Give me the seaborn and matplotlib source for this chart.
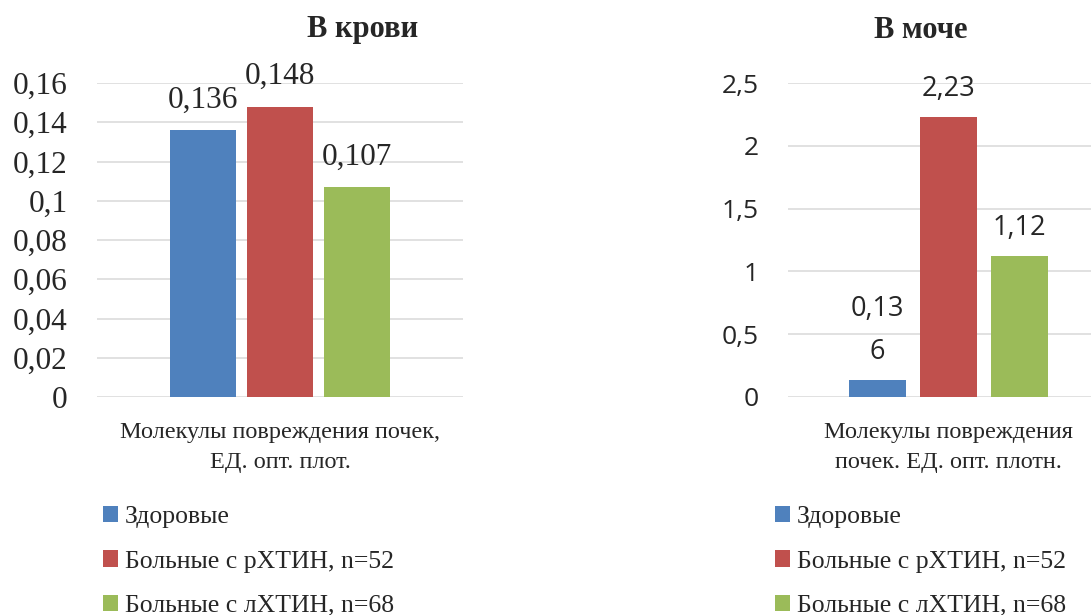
import matplotlib
matplotlib.use("Agg")
import matplotlib.pyplot as plt
from matplotlib.patches import Patch
import seaborn as sns
import pandas as pd

# Data
groups = ["Здоровые", "Больные с рХТИН, n=52", "Больные с лХТИН, n=68"]
colors = ["#4F81BD", "#C0504D", "#9BBB59"]

blood_title = "В крови"
blood_category = "Молекулы повреждения почек,\nЕД. опт. плот."
blood_values = [0.136, 0.148, 0.107]
blood_ticks = [0, 0.02, 0.04, 0.06, 0.08, 0.1, 0.12, 0.14, 0.16]

urine_title = "В моче"
urine_category = "Молекулы повреждения\nпочек. ЕД. опт. плотн."
urine_values = [0.136, 2.23, 1.12]
urine_ticks = [0, 0.5, 1, 1.5, 2, 2.5]

sns.set_style("white")
plt.rcParams["font.family"] = ["Liberation Serif", "DejaVu Serif"]

W, H = 1091, 615
fig = plt.figure(figsize=(W / 100, H / 100), dpi=100)


def fmt(v):
    return f"{v:g}".replace(".", ",")


def panel(rect, category, values, ticks, tick_font, tick_size, label_font,
          label_size, wrap, width, gap, pad):
    ax = fig.add_axes(rect)
    df = pd.DataFrame({"cat": [category] * len(groups), "grp": groups,
                       "val": values})
    sns.barplot(data=df, x="cat", y="val", hue="grp", hue_order=groups,
                palette=colors, width=width, gap=gap, ax=ax, legend=False,
                saturation=1, edgecolor="none")
    ax.set_ylim(ticks[0], ticks[-1])
    ax.set_xlim(-0.5, 0.5)
    ax.set_yticks(ticks)
    ax.set_yticklabels([fmt(t) for t in ticks])
    ax.tick_params(axis="y", length=0, pad=21, labelsize=tick_size,
                   labelfontfamily=tick_font)
    ax.tick_params(axis="x", length=0, pad=18, labelsize=17.5,
                   labelfontfamily="Liberation Serif")
    for lbl in ax.get_xticklabels():
        lbl.set_linespacing(1.55)
    ax.set_xlabel("")
    ax.set_ylabel("")
    ax.yaxis.grid(True, color="#D9D9D9", linewidth=1.1)
    ax.set_axisbelow(True)
    for s in ax.spines.values():
        s.set_visible(False)
    for cont, v in zip(ax.containers, values):
        txt = fmt(v)
        if wrap and len(txt) > wrap:
            txt = txt[:wrap] + "\n" + txt[wrap:]
        ax.bar_label(cont, labels=[txt], padding=pad, fontfamily=label_font,
                     fontsize=label_size, linespacing=1.7)
    return ax


ax1 = panel([97 / W, 1 - 397 / H, 366 / W, 314 / H], blood_category,
            blood_values, blood_ticks, "Liberation Serif", 22.5,
            "Liberation Serif", 22.5, None, 0.63, 0.15, 11)
ax2 = panel([788 / W, 1 - 397 / H, 321 / W, 314 / H], urine_category,
            urine_values, urine_ticks, "Open Sans", 19, "Open Sans", 19.5, 4,
            0.667, 0.2, 10)

fig.text(363 / W, 1 - 30 / H, blood_title, ha="center", va="center",
         fontsize=22, fontweight="bold", fontfamily="Liberation Serif")
fig.text(921 / W, 1 - 30 / H, urine_title, ha="center", va="center",
         fontsize=22, fontweight="bold", fontfamily="Liberation Serif")

handles = [Patch(facecolor=c, edgecolor="none") for c in colors]
for x0 in (103, 775):
    fig.legend(handles, groups, loc="upper left",
               bbox_to_anchor=(x0 / W, 1 - 506 / H),
               bbox_transform=fig.transFigure, frameon=False,
               prop={"family": "Liberation Serif", "size": 18.5},
               handlelength=0.6, handleheight=0.6, handletextpad=0.25,
               labelspacing=0.86, borderpad=0, borderaxespad=0)

fig.savefig("out.png", dpi=100)
